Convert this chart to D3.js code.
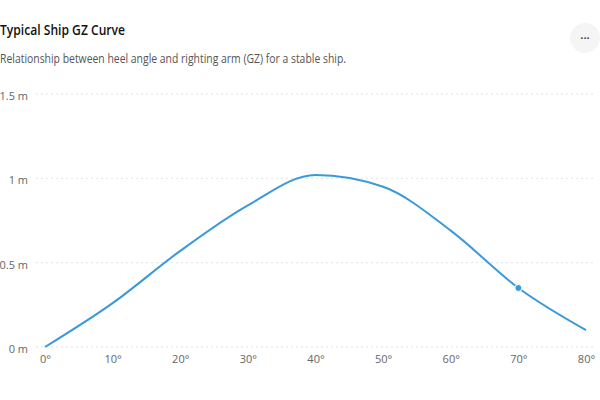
<!DOCTYPE html>
<html>
<head>
<meta charset="utf-8">
<script src="https://cdn.jsdelivr.net/npm/d3@7"></script>
<style>
  body { margin: 0; background: #fff; }
  text { font-family: "Open Sans", "Noto Sans", sans-serif; }
</style>
</head>
<body>
<script>
var width = 600, height = 400;
var margin = {top: 94, bottom: 53, left: 45, right: 14};

// heel angle (deg) and righting arm GZ (m)
var angles = [0, 10, 20, 30, 40, 50, 60, 70, 80];
var gz = [0, 0.26, 0.57, 0.84, 1.02, 0.95, 0.69, 0.35, 0.1];
var yTicks = [0, 0.5, 1, 1.5];
var activeIndex = 7;

var data = angles.map(function(a, i) { return {angle: a, gz: gz[i]}; });

var svg = d3.select("body")
            .append("svg")
            .attr("width", width)
            .attr("height", height);

// title + subtitle
svg.append("text")
   .attr("x", 0)
   .attr("y", 35)
   .attr("font-size", 15)
   .attr("font-weight", 600)
   .attr("fill", "#111")
   .attr("textLength", 125)
   .attr("lengthAdjust", "spacingAndGlyphs")
   .text("Typical Ship GZ Curve");

svg.append("text")
   .attr("x", 0)
   .attr("y", 63)
   .attr("font-size", 12.5)
   .attr("fill", "#555")
   .attr("textLength", 346)
   .attr("lengthAdjust", "spacingAndGlyphs")
   .text("Relationship between heel angle and righting arm (GZ) for a stable ship.");

// menu button
svg.append("circle")
   .attr("cx", 585)
   .attr("cy", 38)
   .attr("r", 15)
   .attr("fill", "#f5f5f5");
svg.append("text")
   .attr("x", 585)
   .attr("y", 39)
   .attr("text-anchor", "middle")
   .attr("font-size", 11)
   .attr("font-weight", 700)
   .attr("fill", "#444")
   .text("...");

var xScale = d3.scaleLinear()
               .domain([0, 80])
               .range([margin.left, width - margin.right]);

var yScale = d3.scaleLinear()
               .domain([0, 1.5])
               .range([height - margin.bottom, margin.top]);

// grid
svg.append("g")
   .selectAll("line")
   .data(yTicks)
   .enter()
   .append("line")
   .attr("x1", 36)
   .attr("x2", 596)
   .attr("y1", function(d) { return yScale(d); })
   .attr("y2", function(d) { return yScale(d); })
   .attr("stroke", "#e2e2e2")
   .attr("stroke-dasharray", "2,3");

// Y axis
var yAxis = d3.axisLeft(yScale)
              .tickValues(yTicks)
              .tickSize(0)
              .tickPadding(0)
              .tickFormat(function(d) { return d + " m"; });

svg.append("g")
   .attr("class", "axis")
   .attr("transform", "translate(28,2)")
   .call(yAxis)
   .call(function(g) {
     g.select(".domain").remove();
     g.selectAll("text").attr("font-size", 11).attr("fill", "#666")
      .style("font-family", "'Open Sans', sans-serif");
   });

// X axis
var xAxis = d3.axisBottom(xScale)
              .tickValues(angles)
              .tickSize(0)
              .tickPadding(0)
              .tickFormat(function(d) { return d + "°"; });

svg.append("g")
   .attr("class", "axis")
   .attr("transform", "translate(0,355)")
   .call(xAxis)
   .call(function(g) {
     g.select(".domain").remove();
     g.selectAll("text").attr("font-size", 11).attr("fill", "#666")
      .style("font-family", "'Open Sans', sans-serif");
   });

// curve
var line = d3.line()
             .x(function(d) { return xScale(d.angle); })
             .y(function(d) { return yScale(d.gz); })
             .curve(d3.curveMonotoneX);

svg.append("path")
   .datum(data)
   .attr("d", line)
   .attr("fill", "none")
   .attr("stroke", "#3a9ad9")
   .attr("stroke-width", 2);

// active point
svg.append("circle")
   .attr("cx", xScale(data[activeIndex].angle))
   .attr("cy", yScale(data[activeIndex].gz))
   .attr("r", 3.5)
   .attr("fill", "#3a9ad9")
   .attr("stroke", "#fff")
   .attr("stroke-width", 1);
</script>
</body>
</html>
